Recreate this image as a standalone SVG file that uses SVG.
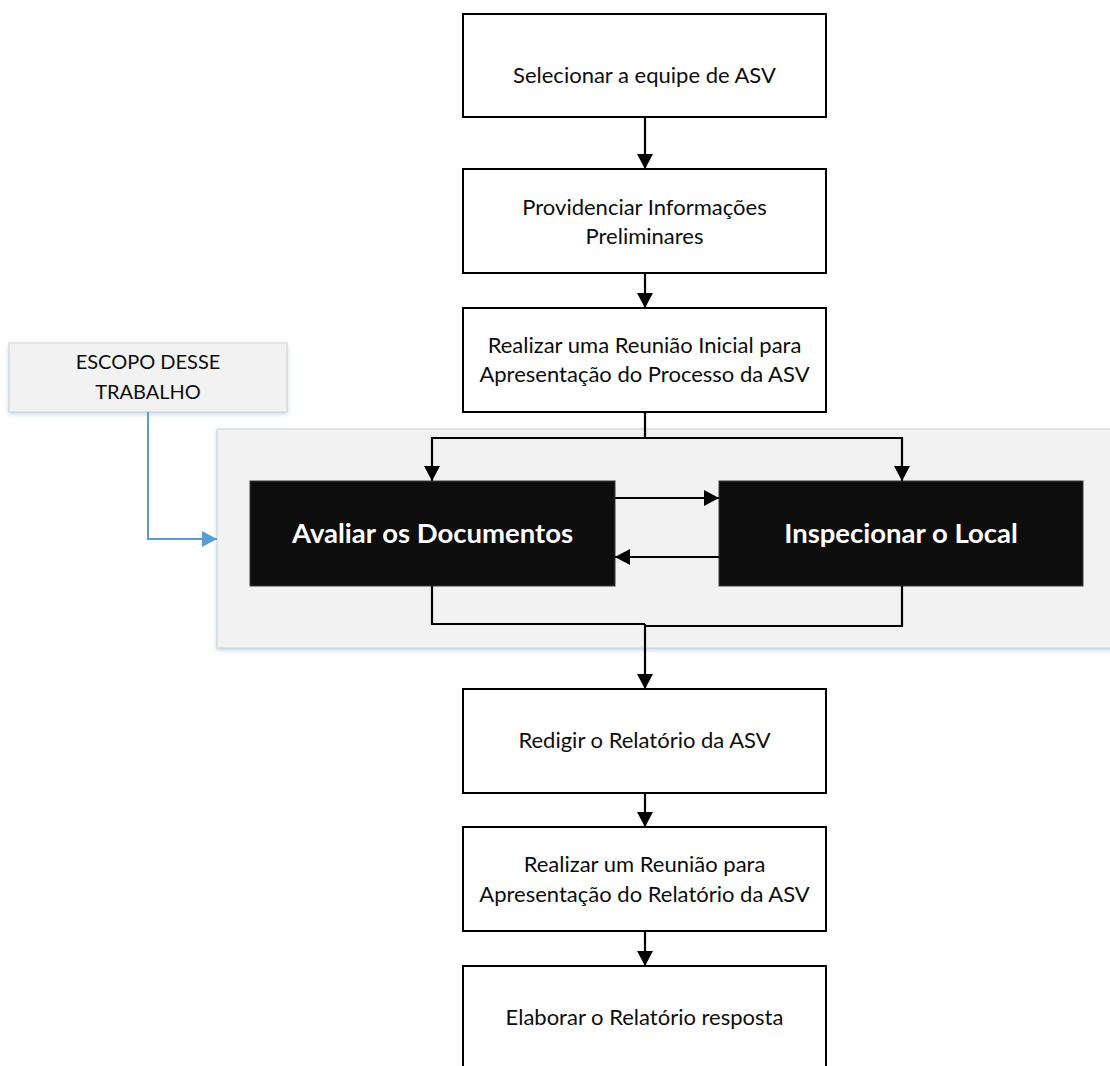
<svg xmlns="http://www.w3.org/2000/svg" width="1110" height="1066" viewBox="0 0 1110 1066">
<defs>
<style>
.box{fill:#fff;stroke:#000;stroke-width:2}
.dark{fill:#0d0d0d;stroke:#3a3a3a;stroke-width:1}
.t{font-family:Lato,"Open Sans","Liberation Sans",sans-serif;font-size:22px;fill:#0d0d0d;text-anchor:middle}
.tb{font-family:Lato,"Open Sans","Liberation Sans",sans-serif;font-size:27.5px;font-weight:bold;fill:#fff;text-anchor:middle}
.ts{font-family:Lato,"Open Sans","Liberation Sans",sans-serif;font-size:20px;fill:#0d0d0d;text-anchor:middle}
.c{fill:none;stroke:#000;stroke-width:2.2}
.cb{fill:none;stroke:#5b9bd5;stroke-width:2}
</style>
<marker id="ah" viewBox="0 0 15 16" refX="15" refY="8" markerWidth="15" markerHeight="16" orient="auto" markerUnits="userSpaceOnUse"><path d="M0,0 L15,8 L0,16 z" fill="#000"/></marker>
<marker id="ahb" viewBox="0 0 15 16" refX="15" refY="8" markerWidth="15" markerHeight="16" orient="auto" markerUnits="userSpaceOnUse"><path d="M0,0 L15,8 L0,16 z" fill="#5b9bd5"/></marker>
<filter id="sh" x="-5%" y="-5%" width="110%" height="120%"><feDropShadow dx="0" dy="2" stdDeviation="2" flood-color="#9dc3e6" flood-opacity="0.6"/></filter>
</defs>
<g id="scope-region"><rect x="217" y="429" width="900" height="219" fill="#f2f2f2" stroke="#d0d0d0" stroke-width="1" filter="url(#sh)"/></g>
<g id="scope-label"><rect x="9" y="343" width="278" height="69" fill="#f2f2f2" stroke="#d0d0d0" stroke-width="1" filter="url(#sh)"/>
<text class="ts" x="148" y="369">ESCOPO DESSE</text><text class="ts" x="148" y="399">TRABALHO</text></g>
<g id="n1"><rect class="box" x="463" y="14" width="363" height="103"/><text class="t" x="644.5" y="83">Selecionar a equipe de ASV</text></g>
<g id="n2"><rect class="box" x="463" y="169" width="363" height="104"/><text class="t" x="644.5" y="215">Providenciar Informações</text><text class="t" x="644.5" y="244">Preliminares</text></g>
<g id="n3"><rect class="box" x="463" y="308" width="363" height="104"/><text class="t" x="644.5" y="353">Realizar uma Reunião Inicial para</text><text class="t" x="644.5" y="382">Apresentação do Processo da ASV</text></g>
<g id="n4"><rect class="dark" x="250" y="481" width="365" height="105"/><text class="tb" x="432.5" y="543">Avaliar os Documentos</text></g>
<g id="n5"><rect class="dark" x="719" y="481" width="364" height="105"/><text class="tb" x="901" y="543">Inspecionar o Local</text></g>
<g id="n6"><rect class="box" x="463" y="689" width="363" height="104"/><text class="t" x="644.5" y="748">Redigir o Relatório da ASV</text></g>
<g id="n7"><rect class="box" x="463" y="827" width="363" height="104"/><text class="t" x="644.5" y="872">Realizar um Reunião para</text><text class="t" x="644.5" y="902">Apresentação do Relatório da ASV</text></g>
<g id="n8"><rect class="box" x="463" y="966" width="363" height="110"/><text class="t" x="644.5" y="1025">Elaborar o Relatório resposta</text></g>
<g id="connectors">
<path class="c" d="M645,117 V169" marker-end="url(#ah)"/>
<path class="c" d="M645,273 V308" marker-end="url(#ah)"/>
<path class="c" d="M645,412 V438 H432 V481" marker-end="url(#ah)"/>
<path class="c" d="M645,438 H902 V481" marker-end="url(#ah)"/>
<path class="c" d="M615,498 H719" marker-end="url(#ah)"/>
<path class="c" d="M719,557 H615" marker-end="url(#ah)"/>
<path class="c" d="M432,586 V624 H645"/>
<path class="c" d="M902,586 V626 H645"/>
<path class="c" d="M645,624 V689" marker-end="url(#ah)"/>
<path class="c" d="M645,793 V827" marker-end="url(#ah)"/>
<path class="c" d="M645,931 V966" marker-end="url(#ah)"/>
<path class="cb" d="M148,412 V539 H217" marker-end="url(#ahb)"/>
</g>
</svg>
